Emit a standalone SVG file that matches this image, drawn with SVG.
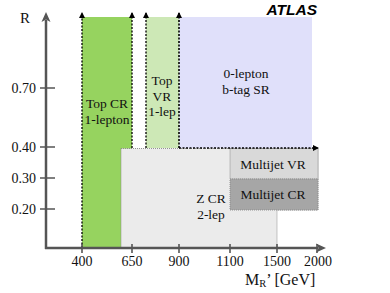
<svg xmlns="http://www.w3.org/2000/svg" width="390" height="293" viewBox="0 0 390 293">
<defs>
<marker id="sa" viewBox="0 0 6 6" refX="5" refY="3" markerWidth="6" markerHeight="6" markerUnits="userSpaceOnUse" orient="auto"><path d="M0,0 L6,3 L0,6 Z" fill="#000"/></marker>
<marker id="ax" viewBox="0 0 10 10" refX="2" refY="5" markerWidth="10" markerHeight="10" markerUnits="userSpaceOnUse" orient="auto"><path d="M0,0.5 L10,5 L0,9.5 L2.5,5 Z" fill="#555"/></marker>
</defs>
<style>
text{font-family:"Liberation Serif","Times New Roman",serif;font-size:13.5px;fill:#111}
.c{text-anchor:middle}
.ax{stroke:#555;stroke-width:2.5;fill:none}
.tk{stroke:#555;stroke-width:1.6}
.dot{stroke:#000;stroke-width:1.3;stroke-dasharray:2 1.5;fill:none}
.gdot{stroke:#888;stroke-width:0.9;stroke-dasharray:1 1}
.yl{text-anchor:end;font-size:14px}
.xl{text-anchor:middle;font-size:14px}
</style>
<rect width="390" height="293" fill="#fff"/>
<g id="top-cr">
<rect x="82" y="17" width="50" height="231" fill="#96d35f"/>
<text class="c" x="107" y="108">Top CR</text>
<text class="c" x="107" y="124">1-lepton</text>
</g>
<g id="top-vr">
<rect x="146" y="17" width="33" height="131" fill="#cde8b6"/>
<text class="c" x="162" y="85">Top</text>
<text class="c" x="162" y="101">VR</text>
<text class="c" x="162" y="116">1-lep</text>
</g>
<g id="sr">
<rect x="179" y="17" width="133" height="131" fill="#e0e0fa"/>
<text class="c" x="246" y="78">0-lepton</text>
<text class="c" x="246" y="94">b-tag SR</text>
</g>
<g id="z-cr">
<path d="M121,148.5 H318 V210 H277 V248 H121 Z" fill="#ebebeb" class="gdot"/>
<text class="c" x="211" y="203">Z CR</text>
<text class="c" x="211" y="219">2-lep</text>
</g>
<g id="multijet-vr">
<rect x="230" y="148.5" width="88" height="30.5" fill="#d9d9d9" class="gdot"/>
<text class="c" x="273" y="169">Multijet VR</text>
</g>
<g id="multijet-cr">
<rect x="230" y="179" width="88" height="31" fill="#a6a6a6" class="gdot"/>
<text class="c" x="273" y="199">Multijet CR</text>
</g>
<g id="connectors">
<path class="dot" d="M82,248 V13" marker-end="url(#sa)"/>
<path class="dot" d="M132,148 V13" marker-end="url(#sa)"/>
<path class="dot" d="M146,148 V13" marker-end="url(#sa)"/>
<path class="dot" d="M179,148 V13" style="stroke-width:1.6" marker-end="url(#sa)"/>
<path class="dot" d="M179,148 H318" marker-end="url(#sa)"/>
</g>
<g id="axes">
<path class="ax" d="M46,249 V20" marker-end="url(#ax)"/>
<path class="ax" d="M45,248 H318" marker-end="url(#ax)"/>
<path class="tk" d="M40,88 H55 M40,147 H55 M40,178 H55 M40,209 H55"/>
<path class="tk" d="M82,244 V253 M132,244 V253 M179,244 V253 M230,244 V253 M277,244 V253 M317,244 V253"/>
<text x="20" y="23" style="font-size:15px">R</text>
<text class="yl" x="36" y="93">0.70</text>
<text class="yl" x="36" y="152">0.40</text>
<text class="yl" x="36" y="183">0.30</text>
<text class="yl" x="36" y="214">0.20</text>
<text class="xl" x="82" y="266">400</text>
<text class="xl" x="132" y="266">650</text>
<text class="xl" x="179" y="266">900</text>
<text class="xl" x="230" y="266">1100</text>
<text class="xl" x="277" y="266">1500</text>
<text class="xl" x="318" y="266">2000</text>
<text x="245" y="285" style="font-size:16px">M<tspan style="font-size:10.5px" dy="2">R</tspan><tspan dy="-2">’ [GeV]</tspan></text>
</g>
<text x="317" y="14.5" style="font-family:'Liberation Sans',Arial,sans-serif;font-weight:bold;font-style:italic;font-size:15.5px;text-anchor:end;fill:#000">ATLAS</text>
</svg>
